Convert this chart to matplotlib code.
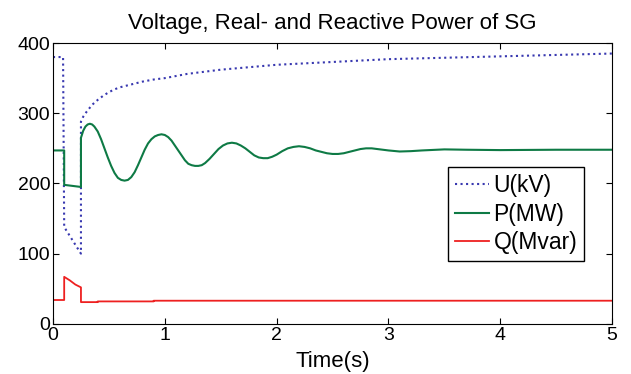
import matplotlib.pyplot as plt

plt.rcParams['font.family'] = ['Liberation Sans', 'DejaVu Sans']

# U(kV)
t_u = [0, 0.09, 0.1, 0.25, 0.25, 0.27, 0.3, 0.35, 0.4, 0.45, 0.5, 0.55, 0.6, 0.7, 0.8, 0.9, 1.0,
       1.2, 1.5, 2.0, 2.5, 3.0, 3.5, 4.0, 4.5, 5.0]
u = [380, 380, 138, 100, 288, 295, 302, 312, 319, 325, 330, 334, 337, 341, 345, 348, 350,
     356, 362, 369, 373, 377, 379, 381, 383, 385]

# P(MW)
t_p = [0, 0.1, 0.1, 0.25, 0.25, 0.27, 0.29, 0.31, 0.33, 0.35, 0.37, 0.40, 0.43, 0.46, 0.49,
       0.52, 0.55, 0.58, 0.61, 0.64, 0.67, 0.70, 0.73, 0.76, 0.79, 0.82, 0.85, 0.88, 0.91,
       0.94, 0.97, 1.00, 1.03, 1.06, 1.09, 1.12, 1.15, 1.18, 1.21, 1.24, 1.27, 1.30, 1.33,
       1.36, 1.40, 1.44, 1.48, 1.52, 1.56, 1.60, 1.64, 1.68, 1.72, 1.76, 1.80, 1.84, 1.88,
       1.92, 1.96, 2.00, 2.05, 2.10, 2.15, 2.20, 2.25, 2.30, 2.35, 2.40, 2.45, 2.50, 2.55,
       2.60, 2.65, 2.70, 2.75, 2.80, 2.85, 2.90, 3.00, 3.10, 3.20, 3.30, 3.50, 3.70, 4.0,
       4.5, 5.0]
p = [247, 247, 198, 195, 265, 275, 281, 284, 285, 284, 281, 274, 263, 250, 237,
     225, 215, 208, 205, 204, 205, 209, 216, 226, 237, 248, 257, 263, 267,
     269, 270, 269, 266, 261, 254, 247, 240, 233, 228, 226, 225, 225, 226,
     229, 235, 242, 249, 254, 257, 258, 257, 254, 250, 245, 240, 237, 236,
     236, 238, 241, 246, 250, 252, 253, 252, 250, 247, 245, 243, 242, 242,
     243, 245, 247, 249, 250, 250, 249, 247, 245.5, 246, 247, 248.5, 248, 247.5,
     248, 248]

# Q(Mvar)
t_q = [0, 0.1, 0.1, 0.15, 0.2, 0.25, 0.25, 0.4, 0.4, 0.9, 0.9, 5.0]
q = [34, 34, 67, 62, 56, 52, 31, 31, 32, 32, 33, 33]

fig = plt.figure(figsize=(6.31, 3.74), dpi=100)
ax = fig.add_axes([0.084, 0.134, 0.886, 0.751])

ax.plot(t_u, u, color='#3838b0', linestyle=':', linewidth=1.5, label='U(kV)')
ax.plot(t_p, p, color='#0e7a45', linewidth=1.5, label='P(MW)')
ax.plot(t_q, q, color='#ee2020', linewidth=1.3, label='Q(Mvar)')

ax.set_xlim(0, 5)
ax.set_ylim(0, 400)
ax.set_xticks([0, 1, 2, 3, 4, 5])
ax.set_yticks([0, 100, 200, 300, 400])
ax.tick_params(direction='in', top=True, right=True, labelsize=14, length=4, pad=2)

ax.set_title('Voltage, Real- and Reactive Power of SG', fontsize=16, pad=10)
ax.set_xlabel('Time(s)', fontsize=16, labelpad=5)

leg = ax.legend(loc='upper right', bbox_to_anchor=(0.95, 0.558), fontsize=16.5,
                fancybox=False, edgecolor='black', framealpha=1,
                handlelength=1.5, handletextpad=0.2, borderpad=0.3, labelspacing=0.25,
                borderaxespad=0)
leg.get_frame().set_linewidth(1.0)

fig.savefig('out.png', dpi=100)
